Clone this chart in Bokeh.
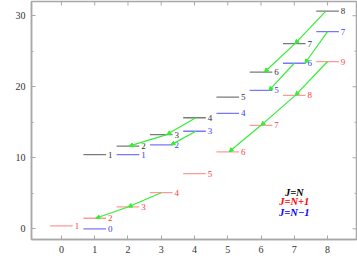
import math
from bokeh.plotting import figure
from bokeh.models import (ColumnDataSource, LinearAxis, FixedTicker, Arrow,
                          NormalHead, Label, Range1d)
from bokeh.core.properties import value
from bokeh.embed import file_html
from bokeh.resources import INLINE

# ---- data ----
# J = N levels (black)
jn_N = [1, 2, 3, 4, 5, 6, 7, 8]
jn_E = [10.46, 11.64, 13.27, 15.64, 18.54, 22.05, 26.07, 30.65]
jn_J = ["1", "2", "3", "4", "5", "6", "7", "8"]
# J = N+1 levels (red)
jp_N = [0, 1, 2, 3, 4, 5, 6, 7, 8]
jp_E = [0.42, 1.49, 3.08, 5.09, 7.76, 10.84, 14.57, 18.78, 23.55]
jp_J = ["1", "2", "3", "4", "5", "6", "7", "8", "9"]
# J = N-1 levels (blue)
jm_N = [1, 2, 3, 4, 5, 6, 7, 8]
jm_E = [0.0, 10.46, 11.82, 13.74, 16.26, 19.48, 23.31, 27.76]
jm_J = ["0", "1", "2", "3", "4", "5", "6", "7"]

# transitions (green arrows): start (x0,y0) -> end (x1,y1)
arr_x0 = [3.0, 2.0, 4.04, 3.17, 4.04, 7.95, 7.02, 8.0, 7.0, 8.0, 7.03, 6.0]
arr_y0 = [5.09, 3.08, 15.64, 13.27, 13.74, 30.65, 26.07, 27.76, 23.31, 23.55, 18.78, 14.57]
arr_x1 = [2.0, 1.03, 3.17, 2.03, 3.29, 7.02, 6.1, 7.32, 6.24, 7.03, 6.0, 5.04]
arr_y1 = [3.08, 1.49, 13.27, 11.64, 11.82, 26.07, 22.05, 23.31, 19.48, 18.78, 14.57, 10.84]

legend_text = ["J=N", "J=N+1", "J=N\u22121"]
legend_colors = ["#000000", "#ff0000", "#0000ff"]
legend_x = [7.0, 7.0, 7.0]
legend_y = [5.13, 3.79, 2.24]

x_ticks = [0, 1, 2, 3, 4, 5, 6, 7, 8]
y_ticks = [0, 10, 20, 30]
y_minor = [5, 15, 25]

X_MIN, X_MAX = -0.9, 8.87
Y_MIN, Y_MAX = -1.5, 32.0

# ---- figure ----
p = figure(width=357, height=258, output_backend="svg", toolbar_location=None,
           x_range=Range1d(X_MIN, X_MAX), y_range=Range1d(Y_MIN, Y_MAX),
           x_axis_location=None, y_axis_location=None,
           min_border_left=31, min_border_right=1, min_border_top=1, min_border_bottom=19)
p.xgrid.visible = False
p.ygrid.visible = False
p.outline_line_color = "#a8a8a8"
p.outline_line_width = 1.5
p.background_fill_color = "white"
p.border_fill_color = "white"

axis_col = "#a8a8a8"
serif = "Liberation Serif"

def style_axis(ax):
    ax.axis_line_color = axis_col
    ax.axis_line_width = 1.5
    ax.major_tick_line_color = axis_col
    ax.minor_tick_line_color = axis_col
    ax.major_tick_in = 4
    ax.major_tick_out = 0
    ax.minor_tick_in = 2
    ax.minor_tick_out = 0
    ax.major_label_text_font = serif
    ax.major_label_text_color = "#333333"
    ax.major_label_text_font_size = "10px"
    ax.major_label_standoff = 6

left = LinearAxis(ticker=FixedTicker(ticks=y_ticks, minor_ticks=y_minor))
style_axis(left)
p.add_layout(left, "left")
below = LinearAxis(ticker=FixedTicker(ticks=x_ticks))
style_axis(below)
p.add_layout(below, "below")

# inward ticks on the top and right edges (half of each dash is clipped by the frame)
p.scatter(x=[X_MAX] * len(y_ticks), y=y_ticks, marker="dash", size=8,
          line_color=axis_col, line_width=1)
p.scatter(x=[X_MAX] * len(y_minor), y=y_minor, marker="dash", size=4,
          line_color=axis_col, line_width=1)
p.scatter(x=x_ticks, y=[Y_MAX] * len(x_ticks), marker="dash", size=8, angle=math.pi / 2,
          line_color=axis_col, line_width=1)

half = 0.34
lab_off = 0.4

series = [
    (jn_N, jn_E, jn_J, "#7a7a7a", "#333333"),
    (jp_N, jp_E, jp_J, "#ff9a9a", "#ff3a3a"),
    (jm_N, jm_E, jm_J, "#7878ff", "#3a3aff"),
]
for Ns, Es, Js, lc, tc in series:
    src = ColumnDataSource(dict(
        x0=[n - half for n in Ns], x1=[n + half for n in Ns],
        xl=[n + lab_off for n in Ns], y=Es, t=Js))
    p.segment(x0="x0", y0="y", x1="x1", y1="y", source=src, line_color=lc, line_width=1.3)
    p.text(x="xl", y="y", text="t", source=src, text_color=tc,
           text_font=value(serif), text_font_size="9px",
           text_align="left", text_baseline="middle")

green = "#33ee33"
asrc = ColumnDataSource(dict(x0=arr_x0, y0=arr_y0, x1=arr_x1, y1=arr_y1))
p.add_layout(Arrow(x_start="x0", y_start="y0", x_end="x1", y_end="y1", source=asrc,
                   line_color=green, line_width=1.2,
                   end=NormalHead(size=4, fill_color=green, line_color=green, line_width=1)))

lsrc = ColumnDataSource(dict(x=legend_x, y=legend_y, t=legend_text, c=legend_colors))
p.text(x="x", y="y", text="t", text_color="c", source=lsrc,
       text_font=value(serif), text_font_size="10.5px", text_font_style="bold italic",
       text_align="center", text_baseline="middle")

p.add_layout(Label(x=-1.53, y=25.1, text="E(K)", text_font=serif, text_font_size="10px",
                   text_color="#333333", text_align="center", text_baseline="middle"))
p.add_layout(Label(x=5.51, y=-3.5, text="N", text_font=serif, text_font_size="10px",
                   text_font_style="italic", text_color="#333333",
                   text_align="center", text_baseline="middle"))

open("out.html", "w").write(file_html(p, INLINE))
